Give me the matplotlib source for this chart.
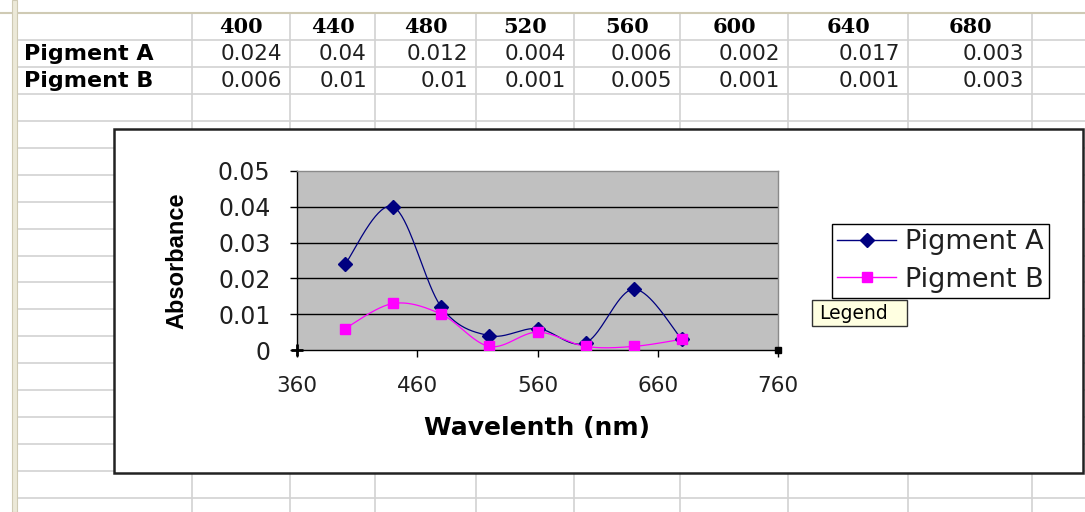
import numpy as np
import matplotlib
matplotlib.use("Agg")
import matplotlib.pyplot as plt
from matplotlib.patches import Rectangle

# data
wavelengths = [400, 440, 480, 520, 560, 600, 640, 680]
pigment_a = [0.024, 0.04, 0.012, 0.004, 0.006, 0.002, 0.017, 0.003]
pigment_b = [0.006, 0.013, 0.01, 0.001, 0.005, 0.001, 0.001, 0.003]
row_names = ['Pigment A', 'Pigment B']
# what the spreadsheet cells show
table_a_text = ['0.024', '0.04', '0.012', '0.004', '0.006', '0.002', '0.017', '0.003']
table_b_text = ['0.006', '0.01', '0.01', '0.001', '0.005', '0.001', '0.001', '0.003']
x_ticks = [360, 460, 560, 660, 760]
y_ticks = [0, 0.01, 0.02, 0.03, 0.04, 0.05]

W, H = 1085, 512
col_edges = [192, 290, 375, 476, 574, 680, 788, 908, 1032]
grid_color = '#d2d2d2'


def smooth(x, y, n=40):
    # excel style smoothed line (bezier through the points)
    pts = np.column_stack([x, y]).astype(float)
    pad = np.vstack([pts[0], pts, pts[-1]])
    t = np.linspace(0, 1, n)[:, None]
    segs = []
    for i in range(len(pts) - 1):
        p0, p1, p2, p3 = pad[i], pad[i + 1], pad[i + 2], pad[i + 3]
        c1 = p1 + (p2 - p0) / 6
        c2 = p2 - (p3 - p1) / 6
        segs.append((1 - t) ** 3 * p1 + 3 * (1 - t) ** 2 * t * c1 + 3 * (1 - t) * t ** 2 * c2 + t ** 3 * p2)
    s = np.vstack(segs)
    return s[:, 0], s[:, 1]


fig = plt.figure(figsize=(W / 100, H / 100), dpi=100)

# spreadsheet background in pixel coordinates
bg = fig.add_axes([0, 0, 1, 1])
bg.set_xlim(0, W)
bg.set_ylim(H, 0)
bg.axis('off')

row_lines = [13 + 27 * k if k < 5 else 121 + 26.9 * (k - 4) for k in range(19)]
for y in row_lines:
    if y < H:
        bg.plot([17, W], [y, y], color=grid_color, lw=1.2, zorder=1)
for x in col_edges:
    bg.plot([x, x], [13, H], color=grid_color, lw=1.2, zorder=1)
bg.plot([0, W], [12.5, 12.5], color='#cfcab4', lw=1.5, zorder=1)
bg.add_patch(Rectangle((12, 0), 5, H, facecolor='#ece9d8', edgecolor='#cfcab4', lw=0.8, zorder=2))

# table
for i, wl in enumerate(wavelengths):
    xc = (col_edges[i] + col_edges[i + 1]) / 2
    bg.text(xc, 27, str(wl), ha='center', va='center', family='DejaVu Serif',
            fontweight='bold', fontsize=15, zorder=3)
    bg.text(col_edges[i + 1] - 8, 54, table_a_text[i], ha='right', va='center',
            family='DejaVu Sans', fontsize=15.5, color='#202020', zorder=3)
    bg.text(col_edges[i + 1] - 8, 81, table_b_text[i], ha='right', va='center',
            family='DejaVu Sans', fontsize=15.5, color='#202020', zorder=3)
for j, name in enumerate(row_names):
    bg.text(24, 54 + 27 * j, name, ha='left', va='center', family='DejaVu Sans',
            fontweight='bold', fontsize=16, zorder=3)

# chart frame
bg.add_patch(Rectangle((114, 129), 1083 - 114, 473 - 129, facecolor='white',
                       edgecolor='#222222', lw=1.8, zorder=4))

# tooltip
bg.add_patch(Rectangle((812, 300), 95, 26, facecolor='#ffffe1', edgecolor='#333333', lw=1.0, zorder=5))
bg.text(819, 313.5, 'Legend', ha='left', va='center', family='DejaVu Sans', fontsize=13.5, zorder=6)

# plot area
left, right, top, bottom = 297, 778, 171, 350
ax = fig.add_axes([left / W, 1 - bottom / H, (right - left) / W, (bottom - top) / H])
ax.set_facecolor('#c0c0c0')
ax.set_xlim(360, 760)
ax.set_ylim(0, 0.05)
ax.set_xticks(x_ticks)
ax.set_yticks(y_ticks)
ax.set_xticklabels([str(v) for v in x_ticks], family='DejaVu Sans', fontsize=15.5, color='#202020')
ax.set_yticklabels([f"{v:g}" for v in y_ticks], family='DejaVu Sans', fontsize=17, color='#202020')
ax.tick_params(axis='y', direction='out', length=5, width=1, pad=14)
ax.tick_params(axis='x', direction='out', length=5, width=1, pad=14)
for v in y_ticks[1:-1]:
    ax.axhline(v, color='black', lw=1.0, zorder=1)
ax.spines['left'].set_color('black')
ax.spines['bottom'].set_color('black')
ax.spines['top'].set_color('#8a8a8a')
ax.spines['right'].set_color('#8a8a8a')
for s in ax.spines.values():
    s.set_linewidth(1.0)

xa, ya = smooth(wavelengths, pigment_a)
xb, yb = smooth(wavelengths, pigment_b)
ax.plot(xa, ya, color='#000080', lw=0.9, zorder=3)
ax.plot(xb, yb, color='#ff00ff', lw=0.9, zorder=3)
ax.plot(wavelengths, pigment_a, ls='none', marker='D', ms=7.5, color='#000080', zorder=4)
ax.plot(wavelengths, pigment_b, ls='none', marker='s', ms=7, color='#ff00ff', zorder=4)
ax.plot([360], [0], marker='+', ms=9, mew=2, color='black', clip_on=False, zorder=5)
ax.plot([760], [0], marker='s', ms=5, color='black', clip_on=False, zorder=5)

ax.set_xlabel('Wavelenth (nm)', family='DejaVu Sans', fontweight='bold', fontsize=18, va='center')
ax.xaxis.set_label_coords(0.5, (bottom - 428) / (bottom - top))
ax.set_ylabel('Absorbance', family='Liberation Sans', fontweight='bold', fontsize=17, va='center')
ax.yaxis.set_label_coords((177 - left) / (right - left), 0.5)

# legend
ha_line = plt.Line2D([], [], color='#000080', lw=1.0, marker='D', ms=7)
hb_line = plt.Line2D([], [], color='#ff00ff', lw=1.0, marker='s', ms=7)
leg = ax.legend([ha_line, hb_line], row_names, loc='upper left',
                bbox_to_anchor=(832 / W, 1 - 224 / H), bbox_transform=fig.transFigure,
                prop={'family': 'DejaVu Sans', 'size': 19.5}, fancybox=False, shadow=False,
                edgecolor='black', framealpha=1, borderpad=0.2, labelspacing=0.42,
                handlelength=2.15, handletextpad=0.35, borderaxespad=0)
leg.get_frame().set_linewidth(1.0)
for t in leg.get_texts():
    t.set_color('#202020')

fig.savefig('out.png', dpi=100)
